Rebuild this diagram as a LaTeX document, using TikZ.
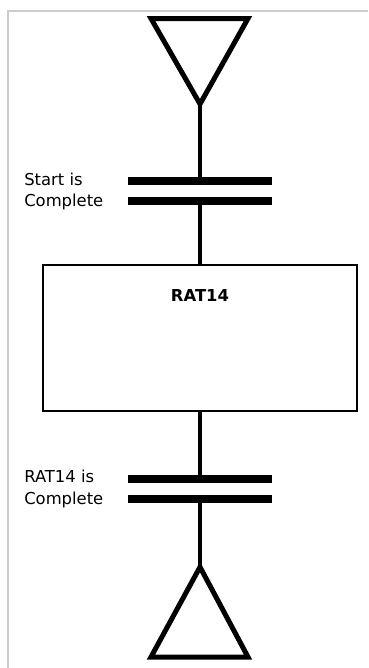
\documentclass[tikz,border=0pt]{standalone}
\usepackage{fontspec}
\newfontfamily\diagfont{DejaVu Sans}
\usepackage{tikz}

\begin{document}
\begin{tikzpicture}[x=0.75pt, y=-0.75pt,
      frame/.style={draw=gray!40, line width=1.5pt},
      tri/.style={draw, line width=3.75pt, line join=miter},
      wire/.style={draw, line width=3.6pt},
      bar/.style={draw, line width=6pt},
      box/.style={rectangle, draw, line width=1.9pt, minimum width=235.8pt,
                  minimum height=109.5pt, inner sep=0pt},
      lbl/.style={anchor=base west, inner sep=0pt, font=\diagfont\fontsize{12.3}{15}\selectfont},
      title/.style={anchor=base, inner sep=0pt, font=\diagfont\bfseries\fontsize{12.3}{15}\selectfont}]
    \useasboundingbox (0,0) rectangle (368,668);
    \draw[frame] (8,668) -- (8,11) -- (368,11);

    % start triangle and contact
    \draw[tri] (151,18.5) -- (248,18.5) -- (200,104) -- cycle;
    \coordinate (topapex) at (200,104);
    \draw[bar] (128,181) -- (272,181);
    \draw[bar] (128,201) -- (272,201);
    \coordinate (startA) at (200,181);
    \coordinate (startB) at (200,201);
    \node[lbl] (startlbl1) at (24,185.7) {Start is};
    \node[lbl] (startlbl2) at (24,206.7) {Complete};

    % step box
    \node[box] (rat) at (200,338) {};
    \node[title] (ratlbl) at (200,301.5) {RAT14};

    % end contact and triangle
    \draw[bar] (128,478.5) -- (272,478.5);
    \draw[bar] (128,499) -- (272,499);
    \coordinate (ratA) at (200,478.5);
    \coordinate (ratB) at (200,499);
    \node[lbl] (ratlbl1) at (24,482.7) {RAT14 is};
    \node[lbl] (ratlbl2) at (24,504) {Complete};
    \draw[tri] (200,567) -- (248,657) -- (151,657) -- cycle;
    \coordinate (botapex) at (200,567);

    \draw[wire] (topapex) -- (startA);
    \draw[wire] (startB) -- (rat.north);
    \draw[wire] (rat.south) -- (ratA);
    \draw[wire] (ratB) -- (botapex);
  \end{tikzpicture}
\end{document}
